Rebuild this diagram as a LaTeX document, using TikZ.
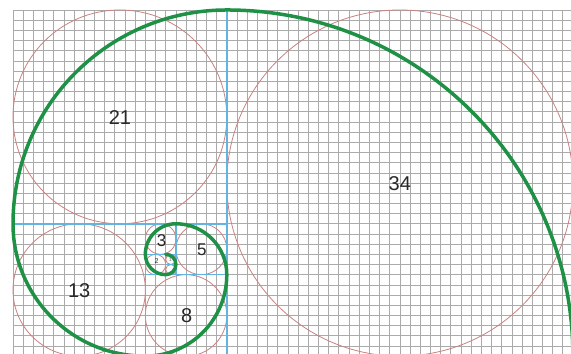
\documentclass[tikz,border=0pt]{standalone}
\usepackage{fontspec}
\setmainfont{Liberation Sans}
\definecolor{gridgray}{RGB}{170,170,170}
\definecolor{spiralgreen}{RGB}{30,145,70}
\definecolor{circred}{RGB}{200,130,130}
\definecolor{sqblue}{RGB}{100,180,225}
\definecolor{labelgray}{RGB}{40,40,40}
\tikzset{
  gridline/.style={draw=gridgray, line width=0.7pt},
  incircle/.style={draw=circred, line width=0.8pt},
  sqline/.style={draw=sqblue, line width=1.5pt},
  spiral/.style={draw=spiralgreen, line width=3.5pt, line cap=round},
  biglabel/.style={text=labelgray, font=\fontsize{20}{22}\selectfont, inner sep=0pt},
  midlabel/.style={text=labelgray, font=\fontsize{17}{19}\selectfont, inner sep=0pt},
  smalllabel/.style={text=labelgray, font=\fontsize{7}{8}\selectfont, inner sep=0pt},
  tinylabel/.style={text=labelgray!70, font=\fontsize{5}{6}\selectfont, inner sep=0pt}
}
\begin{document}
\begin{tikzpicture}[x=10.18pt,y=10.18pt]
\useasboundingbox (-1.277,0.21) rectangle (54.81,34.98);
\fill[white] (-1.277,0.21) rectangle (54.81,34.98);
\clip (-1.277,0.21) rectangle (54.81,34.98);
% grid
\draw[gridline, step=1] (0,0) grid (55,34);
% inscribed circles
\draw[incircle] (38,17) circle[radius=17];
\draw[incircle] (10.5,23.5) circle[radius=10.5];
\draw[incircle] (6.5,6.5) circle[radius=6.5];
\draw[incircle] (17,4) circle[radius=4];
\draw[incircle] (18.5,10.5) circle[radius=2.5];
\draw[incircle] (14.5,11.5) circle[radius=1.5];
\draw[incircle] (14,9) circle[radius=1];
\draw[incircle] (15.5,8.5) circle[radius=0.5];
\draw[incircle] (15.5,9.5) circle[radius=0.5];
% square boundaries
\draw[sqline] (21,0) -- (21,34);
\draw[sqline] (0,13) -- (21,13);
\draw[sqline] (13,0) -- (13,13);
\draw[sqline] (13,8) -- (21,8);
\draw[sqline] (16,8) -- (16,13);
\draw[sqline] (13,10) -- (16,10);
\draw[sqline, line width=0.8pt] (15,8) -- (15,10);
\draw[sqline, line width=0.8pt] (15,9) -- (16,9);
% golden spiral
\draw[spiral] (55,0)
  arc[start angle=0, end angle=90, radius=34]
  arc[start angle=90, end angle=180, radius=21]
  arc[start angle=180, end angle=270, radius=13]
  arc[start angle=270, end angle=360, radius=8]
  arc[start angle=0, end angle=90, radius=5]
  arc[start angle=90, end angle=180, radius=3]
  arc[start angle=180, end angle=270, radius=2]
  arc[start angle=270, end angle=360, radius=1]
  arc[start angle=0, end angle=90, radius=1];
% labels
\node[biglabel] (l34) at (38,16.9) {34};
\node[biglabel] (l21) at (10.5,23.4) {21};
\node[biglabel] (l13) at (6.5,6.4) {13};
\node[biglabel] (l8) at (17.05,3.95) {8};
\node[midlabel] (l5) at (18.55,10.45) {5};
\node[midlabel] (l3) at (14.6,11.3) {3};
\node[smalllabel] (l2) at (14.1,9.3) {2};
\node[tinylabel] (l1) at (15.45,9.45) {1};
\end{tikzpicture}
\end{document}
